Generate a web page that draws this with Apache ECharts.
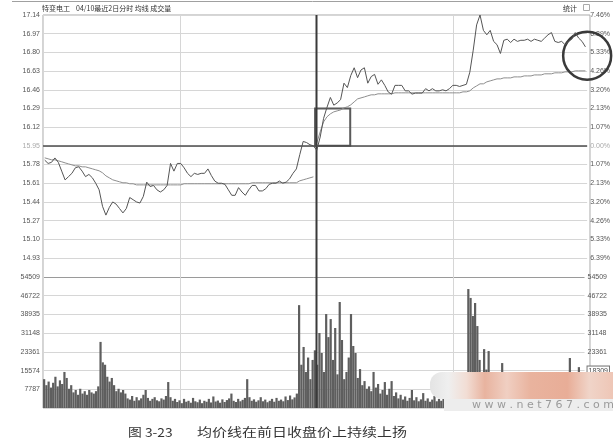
<!DOCTYPE html>
<html><head><meta charset="utf-8">
<script src="https://cdn.jsdelivr.net/npm/echarts@6/dist/echarts.min.js"></script>
<style>html,body{margin:0;padding:0;background:#fff}#c{width:613px;height:442px}</style>
</head><body><div id="c"></div>
<script>
// ---- data ----
const prevClose = 15.95;
const priceStep = 0.17;
const priceTickLabels = ['14.93','15.10','15.27','15.44','15.61','15.78','15.95','16.12','16.29','16.46','16.63','16.80','16.97','17.14'];
const pctTickLabels = ['6.39%','5.33%','4.26%','3.20%','2.13%','1.07%','0.00%','1.07%','2.13%','3.20%','4.26%','5.33%','6.39%','7.46%'];
const volumeTickLabels = ['', '7787','15574','23361','31148','38935','46722','54509'];
const volumeMax = 54509, volumeStep = 7787;
const lastVolume = '18309';

// 3-minute samples, 80 per day
const day1Price = [
 15.82,15.79,15.80,15.84,15.80,15.72,15.64,15.67,15.70,15.75,
 15.76,15.72,15.67,15.69,15.66,15.61,15.55,15.40,15.32,15.39,
 15.44,15.42,15.38,15.34,15.38,15.48,15.46,15.44,15.43,15.49,
 15.62,15.58,15.59,15.55,15.53,15.55,15.59,15.79,15.72,15.79,
 15.79,15.75,15.70,15.67,15.70,15.69,15.70,15.70,15.74,15.68,
 15.63,15.61,15.61,15.60,15.55,15.50,15.50,15.57,15.53,15.50,
 15.55,15.59,15.59,15.54,15.54,15.56,15.60,15.61,15.61,15.63,
 15.61,15.62,15.65,15.70,15.74,15.87,15.99,15.98,15.96,15.95];
const day1Avg = [
 15.841,15.832,15.823,15.823,15.814,15.805,15.795,15.786,15.777,15.768,
 15.768,15.759,15.759,15.750,15.741,15.732,15.723,15.705,15.677,15.659,
 15.641,15.632,15.623,15.614,15.614,15.605,15.605,15.595,15.595,15.595,
 15.595,15.595,15.595,15.595,15.595,15.595,15.595,15.595,15.595,15.595,
 15.595,15.605,15.605,15.605,15.605,15.605,15.605,15.605,15.605,15.605,
 15.605,15.605,15.605,15.605,15.605,15.605,15.605,15.605,15.605,15.605,
 15.605,15.614,15.614,15.614,15.614,15.614,15.614,15.614,15.614,15.614,
 15.614,15.614,15.614,15.614,15.614,15.632,15.641,15.650,15.659,15.668];
const day2Price = [
 15.91,16.03,16.20,16.30,16.39,16.32,16.34,16.37,16.52,16.48,
 16.59,16.66,16.57,16.64,16.66,16.52,16.58,16.60,16.51,16.55,
 16.50,16.44,16.42,16.50,16.50,16.50,16.45,16.45,16.42,16.43,
 16.43,16.43,16.47,16.45,16.47,16.45,16.45,16.46,16.45,16.47,
 16.50,16.50,16.49,16.50,16.51,16.62,16.82,17.05,17.14,17.00,
 16.96,17.00,16.90,16.87,16.79,16.91,16.92,16.89,16.92,16.90,
 16.91,16.91,16.92,16.90,16.92,16.91,16.90,16.93,16.96,16.98,
 16.90,16.89,16.90,16.87,16.90,16.92,16.98,16.93,16.90,16.85];
const day2Avg = [
 15.977,16.077,16.168,16.214,16.241,16.259,16.268,16.277,16.295,16.305,
 16.323,16.350,16.377,16.386,16.395,16.405,16.414,16.414,16.423,16.423,
 16.423,16.423,16.423,16.432,16.432,16.432,16.432,16.432,16.432,16.432,
 16.432,16.432,16.432,16.432,16.432,16.432,16.432,16.432,16.432,16.432,
 16.432,16.432,16.432,16.441,16.441,16.450,16.477,16.495,16.514,16.514,
 16.532,16.541,16.550,16.559,16.559,16.568,16.568,16.568,16.577,16.577,
 16.577,16.586,16.586,16.586,16.595,16.595,16.595,16.605,16.605,16.605,
 16.614,16.614,16.614,16.623,16.623,16.623,16.632,16.632,16.632,16.632];

// 2-minute volume bars, 120 per day
const day1Volume = [
 12000,9500,11000,8500,10500,13000,9000,11500,10000,15000,12500,8000,9500,
 6500,7500,5500,8000,6000,7000,5500,7500,6500,6000,7000,
 9000,27500,19000,18000,13000,11000,12500,9500,7000,8000,6500,7500,6000,
 4000,3500,5000,3000,4500,3200,4000,5500,7500,4200,3000,3800,4500,3200,2800,4000,3500,5000,10800,4500,3000,3800,
 2500,3200,2000,3800,2600,3000,2200,4200,2800,2400,3500,2000,3000,2600,3800,2300,4800,2700,3100,2200,3600,2500,3300,4000,6000,3000,2500,3800,2800,3400,4200,12000,
 4500,3000,3600,2600,3200,4500,2800,3500,2400,3000,3800,2600,4200,3000,3500,2800,4800,3300,5200,3600,4400,6000,
 42800,18000,25400,15000,21000,12000,20000];
const day2Volume = [
 24000,18000,31200,22900,15000,39100,29500,37000,20000,33300,
 14000,44100,28300,12000,15000,21000,39100,25800,22900,12500,
 16200,9500,11200,8000,9000,7000,15000,8500,10000,6000,
 7500,10800,5500,8000,11200,5000,6500,4000,5500,3500,
 4800,3000,4200,7500,3200,4500,2800,3600,6200,3000,
 4000,2600,3500,5000,2800,3800,3000,4500,3200,5000,
 4000,5500,4200,6000,5000,7000,8000,12000,49500,45800,
 38300,43700,34100,20000,12000,24500,16000,23700,10000,8000,
 6500,9000,7000,18700,6000,7500,5500,6500,5000,7000,
 4500,6000,5000,5500,4200,6500,4800,5200,4000,6000,
 4500,5500,4000,6000,5000,4500,6500,5000,4200,5800,
 4500,6000,7000,20800,9000,6500,8000,17000,7500,9000];

// annotation anchors (minutes / price)
const boxFrom = [240, 15.95], boxTo = [271, 16.29];
const circleAt = [480, 16.77];

// ---- build ----
const toStep = p => (p - prevClose) / priceStep;
const priceAll = day1Price.concat(day2Price);
const priceData = priceAll.map((p, i) => [i * 3 + 1.5, toStep(p)]);
const avg1Data = day1Avg.map((p, i) => [i * 3 + 1.5, toStep(p)]);
const avg2Data = day2Avg.map((p, i) => [240 + i * 3 + 1.5, toStep(p)]);
const volAll = day1Volume.concat(day2Volume);
const volData = volAll.map((v, k) => [k * 2 + 1, v]);

const lab = { fontSize: 7, fontFamily: 'Liberation Sans, Arial, sans-serif', margin: 3 };
const cjk = '"Noto Sans CJK SC", sans-serif';

const chart = echarts.init(document.getElementById('c'), null, { renderer: 'canvas' });
chart.setOption({
  animation: false,
  backgroundColor: '#fff',
  grid: [
    { left: 43, right: 23, top: 15, height: 243 },
    { left: 43, right: 23, top: 277, height: 131 },
    { left: 43, right: 23, top: 15, height: 393, show: true, borderColor: '#a8a8a8', borderWidth: 1, backgroundColor: 'transparent' }
  ],
  xAxis: [
    { gridIndex: 0, type: 'value', min: 0, max: 480, interval: 120, show: false },
    { gridIndex: 1, type: 'value', min: 0, max: 480, interval: 120, show: false },
    { gridIndex: 2, type: 'value', min: 0, max: 480, interval: 120,
      axisLine: { show: false }, axisTick: { show: false }, axisLabel: { show: false },
      splitLine: { show: true, lineStyle: { color: '#d6d6d6', width: 1 } } }
  ],
  yAxis: [
    { gridIndex: 0, type: 'value', position: 'left', min: -6, max: 7, interval: 1,
      axisLine: { show: false }, axisTick: { show: false },
      axisLabel: Object.assign({}, lab, {
        formatter: v => priceTickLabels[Math.round(v) + 6],
        color: v => Math.round(v) === 0 ? '#aaa' : '#555' }),
      splitLine: { show: true, lineStyle: { color: '#d6d6d6', width: 1 } } },
    { gridIndex: 0, type: 'value', position: 'right', min: -6, max: 7, interval: 1,
      axisLine: { show: false }, axisTick: { show: false },
      axisLabel: Object.assign({}, lab, {
        formatter: v => pctTickLabels[Math.round(v) + 6],
        color: v => Math.round(v) === 0 ? '#aaa' : '#555' }),
      splitLine: { show: false } },
    { gridIndex: 1, type: 'value', position: 'left', min: 0, max: volumeMax, interval: volumeStep,
      axisLine: { show: false }, axisTick: { show: false },
      axisLabel: Object.assign({}, lab, { color: '#555',
        formatter: v => volumeTickLabels[Math.round(v / volumeStep)] }),
      splitLine: { show: true, lineStyle: { color: ['#d6d6d6','#d6d6d6','#d6d6d6','#d6d6d6','#d6d6d6','#d6d6d6','#d6d6d6','#9a9a9a'], width: 1 } } },
    { gridIndex: 1, type: 'value', position: 'right', min: 0, max: volumeMax, interval: volumeStep,
      axisLine: { show: false }, axisTick: { show: false },
      axisLabel: Object.assign({}, lab, { color: '#555',
        formatter: v => { const i = Math.round(v / volumeStep); return i === 2 ? '{box|' + lastVolume + '}' : volumeTickLabels[i]; },
        rich: { box: { fontSize: 7, fontFamily: 'Liberation Sans, Arial', borderColor: '#777', borderWidth: 1, padding: [1, 1, 0, 1], color: '#444', backgroundColor: '#fff' } } }),
      splitLine: { show: false } },
    { gridIndex: 2, type: 'value', min: 0, max: 1, show: false }
  ],
  series: [
    { name: 'sep', type: 'line', xAxisIndex: 2, yAxisIndex: 4, data: [[240, 0], [240, 1]],
      showSymbol: false, silent: true, lineStyle: { color: '#3a3a3a', width: 2 }, z: 4 },
    { name: 'vol', type: 'bar', xAxisIndex: 1, yAxisIndex: 2, data: volData, barWidth: 2.2,
      itemStyle: { color: '#5e5e5e' }, silent: true, z: 2 },
    { name: 'avg1', type: 'line', xAxisIndex: 0, yAxisIndex: 0, data: avg1Data, showSymbol: false,
      lineStyle: { color: '#8e8e8e', width: 1 }, z: 3 },
    { name: 'avg2', type: 'line', xAxisIndex: 0, yAxisIndex: 0, data: avg2Data, showSymbol: false,
      lineStyle: { color: '#8e8e8e', width: 1 }, z: 3 },
    { name: 'price', type: 'line', xAxisIndex: 0, yAxisIndex: 0, data: priceData, showSymbol: false,
      lineStyle: { color: '#555555', width: 1 }, z: 5, clip: false,
      markLine: { silent: true, symbol: ['none', 'none'], label: { show: false },
        lineStyle: { color: '#4d4d4d', width: 1.5, type: 'solid' },
        data: [{ yAxis: toStep(prevClose) }] },
      markArea: { silent: true, itemStyle: { color: 'rgba(0,0,0,0)', borderColor: '#5a5a5a', borderWidth: 2 },
        data: [[{ xAxis: boxFrom[0], yAxis: toStep(boxFrom[1]) }, { xAxis: boxTo[0], yAxis: toStep(boxTo[1]) }]] },
      markPoint: { silent: true, symbol: 'circle', symbolSize: 48, label: { show: false },
        itemStyle: { color: 'rgba(0,0,0,0)', borderColor: '#3a3a3a', borderWidth: 2.5 },
        data: [{ coord: [circleAt[0], toStep(circleAt[1])] }] } }
  ],
  graphic: [
    { type: 'line', shape: { x1: 12, y1: 1.5, x2: 613, y2: 1.5 }, style: { stroke: '#a0a0a0', lineWidth: 1 } },
    { type: 'text', x: 42, y: 8, style: { text: '特变电工', fontSize: 7, fontFamily: cjk, fill: '#333', verticalAlign: 'middle' } },
    { type: 'text', x: 76, y: 8, style: { text: '04/10最近2日分时 均线 成交量', fontSize: 7, fontFamily: cjk, fill: '#333', verticalAlign: 'middle' } },
    { type: 'text', x: 563, y: 8, style: { text: '统计', fontSize: 7, fontFamily: cjk, fill: '#333', verticalAlign: 'middle' } },
    { type: 'rect', shape: { x: 583.5, y: 4.5, width: 6, height: 6 }, style: { fill: '#fff', stroke: '#aaa', lineWidth: 1 } },
    { type: 'rect', z: 100, shape: { x: 430, y: 372, width: 183, height: 27, r: [12, 0, 0, 12] },
      style: { fill: new echarts.graphic.LinearGradient(0, 0, 1, 0, [
        { offset: 0, color: '#e4e4e4' }, { offset: 0.1, color: '#efefef' }, { offset: 0.2, color: '#f2ddd4' },
        { offset: 0.3, color: '#e8b39f' }, { offset: 0.42, color: '#f0cfc2' }, { offset: 0.55, color: '#e9b39e' },
        { offset: 0.75, color: '#e8ad97' }, { offset: 0.87, color: '#f0d4c8' }, { offset: 1, color: '#eec6b6' }]) } },
    { type: 'rect', z: 100, shape: { x: 444, y: 399, width: 169, height: 12 }, style: { fill: '#ededed' } },
    { type: 'text', z: 101, x: 472, y: 405, style: { text: 'w w w . n e t 7 6 7 . c o m', fontSize: 11, fontFamily: 'DejaVu Sans', fill: '#9a9a9a', verticalAlign: 'middle' } },
    { type: 'text', x: 128, y: 432, scaleX: 1.15, style: { text: '图 3-23', fontSize: 12, fontFamily: cjk, fill: '#333', verticalAlign: 'middle' } },
    { type: 'text', x: 197, y: 432, scaleX: 1.25, style: { text: '均价线在前日收盘价上持续上扬', fontSize: 12, fontFamily: cjk, fill: '#333', verticalAlign: 'middle' } }
  ]
});
</script>
</body></html>
